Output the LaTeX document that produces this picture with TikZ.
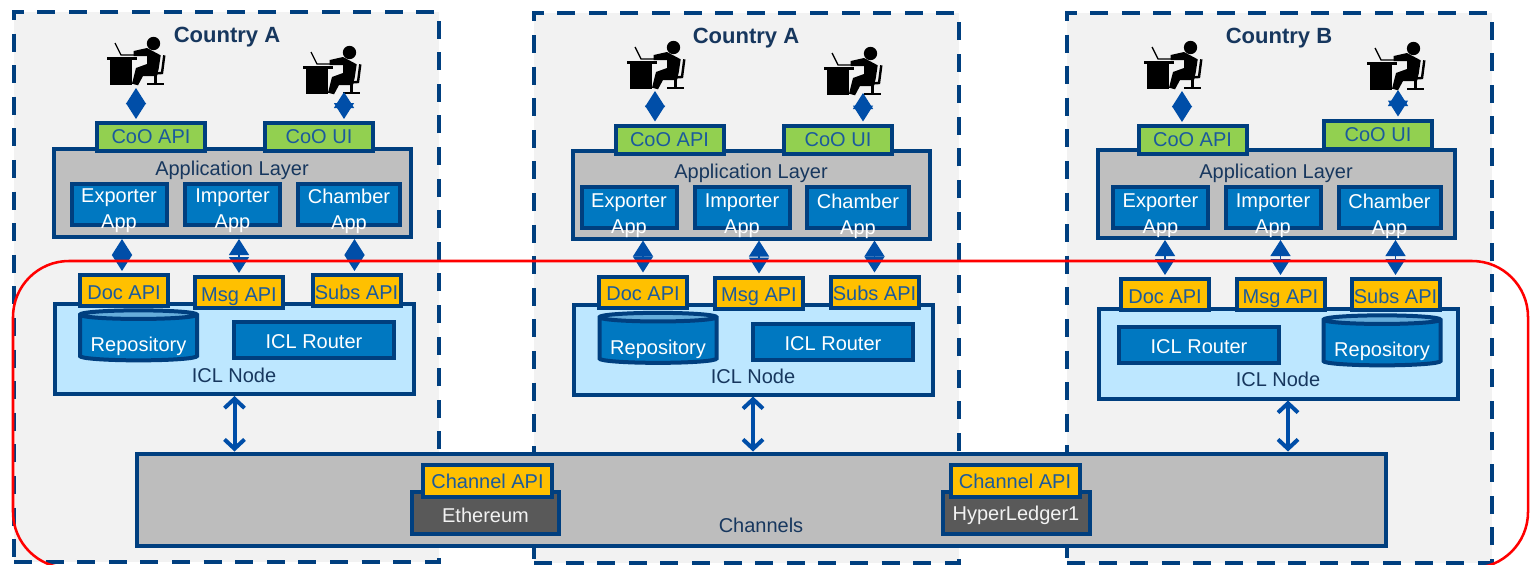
\documentclass[tikz,border=0pt]{standalone}
\usepackage{fontspec}
\setmainfont{Liberation Sans}
\usepackage{xcolor}
\usetikzlibrary{arrows.meta,shapes.geometric}

\definecolor{navyline}{HTML}{003F7F}
\definecolor{navytext}{HTML}{17375E}
\definecolor{apitext}{HTML}{1B5A9C}
\definecolor{arrowblue}{HTML}{004EA8}
\definecolor{cooGreen}{HTML}{92D050}
\definecolor{apiYellow}{HTML}{FFC000}
\definecolor{iclBlue}{HTML}{BDE7FF}
\definecolor{appBlue}{HTML}{0078C1}
\definecolor{repoTop}{HTML}{66ADDB}
\definecolor{chainGrey}{HTML}{595959}

\tikzset{
	box/.style={draw=navyline,line width=3pt,inner sep=0pt,align=center,font=\fontsize{15}{19.5}\selectfont},
	country/.style={draw=navyline,fill=black!5,line width=3pt,dash pattern=on 13.5pt off 10.2pt,minimum width=318.75pt,minimum height=412.5pt,inner sep=0pt},
	title/.style={text=navytext,font=\fontsize{16.5}{20}\selectfont\bfseries},
	coobox/.style={box,fill=cooGreen,text=apitext,minimum width=81pt,minimum height=21pt},
	apibox/.style={box,fill=apiYellow,text=apitext,minimum width=66pt,minimum height=23.25pt,text height=13pt,text depth=0pt},
	chanbox/.style={box,fill=apiYellow,text=apitext,minimum width=96.75pt,minimum height=24pt},
	layer/.style={box,fill=black!25,minimum width=267.75pt,minimum height=66pt},
	iclnode/.style={box,fill=iclBlue,minimum width=269.25pt,minimum height=67.5pt},
	appbox/.style={box,fill=appBlue,minimum width=71.25pt,minimum height=30.75pt},
	routerbox/.style={box,fill=appBlue,text=white,minimum width=120pt,minimum height=27pt,text height=13pt,text depth=0pt},
	repo/.style={cylinder,shape border rotate=90,aspect=0.09,draw=navyline,line width=3pt,inner sep=0pt,cylinder uses custom fill,cylinder body fill=appBlue,cylinder end fill=repoTop,text=white,minimum width=87.75pt,minimum height=37.5pt,text height=20pt,text depth=0pt,font=\fontsize{15}{19.5}\selectfont},
	chainbox/.style={box,fill=chainGrey,text=black!5,minimum width=110.25pt,minimum height=31.5pt},
	apptext/.style={text=white,align=center,inner sep=0pt,font=\fontsize{15}{19.5}\selectfont},
	darktext/.style={text=navytext,inner sep=0pt,font=\fontsize{15}{18}\selectfont},
	smallarrow/.style={draw=arrowblue,line width=1pt,shorten >=1.5pt,{Triangle[length=12pt,width=15pt]}-{Triangle[length=12pt,width=15pt]}},
	bigarrow/.style={draw=arrowblue,line width=3pt,{Straight Barb[length=7pt,width=15pt]}-{Straight Barb[length=7pt,width=15pt]}},
	pics/worker/.style={code={
		\begin{scope}[yscale=-1]
		\fill (46.5,6.5) circle [radius=5pt];
		\fill (0,20) rectangle (30,23);
		\fill (3,23) rectangle (25,48);
		\draw [line width=1pt] (8,6) -- (14,18) -- (27,18);
		\fill (26.7,14) -- (40,11) -- (53.7,18.3) -- (51.7,31.7) -- (50,39) -- (36,39) -- (31,48.3) -- (25,46.7) -- (29,31) -- (40,27) -- (40,19) -- (26.7,19) -- cycle;
		\draw [line width=1.8pt] (57.3,18.3) -- (55,36) -- (40,37);
		\draw [line width=1.8pt] (48.3,38) -- (48.3,46);
		\draw [line width=1.8pt] (40,47) -- (56.7,47);
		\end{scope}
	}}
}

\begin{document}
\begin{tikzpicture}[x=0.75pt,y=0.75pt,yscale=-1,xscale=1]
	\useasboundingbox (0,0) rectangle (1530,564);
	
	%Shape: Country panels
	\node [country] (countryA) at (226.5,286.5) {};
	\node [country] (countryB) at (746.5,288) {};
	\node [country] (countryC) at (1279.5,287.5) {};
	% Text Node
	\node [title] (titleA) at (227,37) {Country A};
	\node [title] (titleB) at (746,38) {Country A};
	\node [title] (titleC) at (1279,38) {Country B};
	
	%Shape: Workers
	\pic at (107,37) {worker};
	\pic at (303,46) {worker};
	\pic at (627,41) {worker};
	\pic at (824,47) {worker};
	\pic at (1144,41) {worker};
	\pic at (1367,42) {worker};
	\coordinate (userA1) at (136,88);
	\coordinate (userA2) at (344,92);
	\coordinate (userB1) at (655,91);
	\coordinate (userB2) at (863,93);
	\coordinate (userC1) at (1182,91);
	\coordinate (userC2) at (1398,90);
	
	%Shape: Application layers
	\node [layer] (layerA) at (232.5,193) {};
	\node [layer] (layerB) at (751.5,194.5) {};
	\node [layer] (layerC) at (1276.5,194) {};
	\node [coobox] (cooApiA) at (151,137) {CoO API};
	\node [coobox] (cooUiA) at (319,137) {CoO UI};
	\node [coobox] (cooApiB) at (669.5,139.5) {CoO API};
	\node [coobox] (cooUiB) at (838,139.5) {CoO UI};
	\node [coobox] (cooApiC) at (1192.5,140) {CoO API};
	\node [coobox] (cooUiC) at (1378,134.5) {CoO UI};
	% Text Node
	\node [darktext] (layerTextA) at (232,170) {Application Layer};
	\node [darktext] (layerTextB) at (751,173) {Application Layer};
	\node [darktext] (layerTextC) at (1276,173) {Application Layer};
	
	%Shape: Apps
	\node [appbox] (exporterA) at (119,204) {};
	\node [appbox] (importerA) at (232.5,204) {};
	\node [appbox,minimum width=76.5pt] (chamberA) at (349,204) {};
	\node [appbox] (exporterB) at (629,207) {};
	\node [appbox] (importerB) at (742,207) {};
	\node [appbox,minimum width=76.5pt] (chamberB) at (858,207) {};
	\node [appbox] (exporterC) at (1160.5,207) {};
	\node [appbox] (importerC) at (1273,207) {};
	\node [appbox,minimum width=76.5pt] (chamberC) at (1389.5,207) {};
	% Text Node
	\node [apptext] (exporterTextA) at (119,211) {Exporter\\App};
	\node [apptext] (importerTextA) at (232.5,211) {Importer\\App};
	\node [apptext] (chamberTextA) at (349,211) {Chamber\\App};
	\node [apptext] (exporterTextB) at (629,216) {Exporter\\App};
	\node [apptext] (importerTextB) at (742,216) {Importer\\App};
	\node [apptext] (chamberTextB) at (858,216) {Chamber\\App};
	\node [apptext] (exporterTextC) at (1160.5,216) {Exporter\\App};
	\node [apptext] (importerTextC) at (1273,216) {Importer\\App};
	\node [apptext] (chamberTextC) at (1389.5,216) {Chamber\\App};
	
	%Shape: ICL nodes
	\node [iclnode] (iclA) at (234.5,349) {};
	\node [iclnode] (iclB) at (753,349.5) {};
	\node [iclnode] (iclC) at (1278,353.5) {};
	\node [apibox] (docA) at (124,290.5) {Doc API};
	\node [apibox] (msgA) at (239,292.5) {Msg API};
	\node [apibox] (subsA) at (356.5,290.5) {Subs API};
	\node [apibox] (docB) at (643,292) {Doc API};
	\node [apibox] (msgB) at (759,293) {Msg API};
	\node [apibox] (subsB) at (874.5,292) {Subs API};
	\node [apibox] (docC) at (1165,294.5) {Doc API};
	\node [apibox] (msgC) at (1280.5,294.5) {Msg API};
	\node [apibox] (subsC) at (1395.5,294.5) {Subs API};
	\node [repo] (repoA) at (138.5,338.5) {Repository};
	\node [repo] (repoB) at (658,341) {Repository};
	\node [repo] (repoC) at (1382,343.5) {Repository};
	\node [routerbox] (routerA) at (314,340) {ICL Router};
	\node [routerbox] (routerB) at (833,342) {ICL Router};
	\node [routerbox] (routerC) at (1199,344.5) {ICL Router};
	% Text Node
	\node [darktext] (iclTextA) at (234,375) {ICL Node};
	\node [darktext] (iclTextB) at (753,376) {ICL Node};
	\node [darktext] (iclTextC) at (1278,379) {ICL Node};
	
	%Shape: Channels
	\node [box,fill=black!26,minimum width=936.75pt,minimum height=69pt] (channels) at (761,499.5) {};
	\node [chainbox] (ethereum) at (485.5,513) {};
	\node [chainbox] (hyperledger) at (1016,513) {};
	\node [chanbox] (chanApi1) at (487.5,481) {Channel API};
	\node [chanbox] (chanApi2) at (1015,481) {Channel API};
	% Text Node
	\node [apptext,text=black!5] (ethereumText) at (485.5,515) {Ethereum};
	\node [apptext,text=black!5] (hyperledgerText) at (1016,515) {HyperLedger1};
	\node [darktext] (channelsText) at (761,525) {Channels};
	
	%Straight Lines: users to APIs
	\draw [smallarrow] (userA1) -- (userA1 |- cooApiA.north);
	\draw [smallarrow] (userA2) -- (userA2 |- cooUiA.north);
	\draw [smallarrow] (userB1) -- (userB1 |- cooApiB.north);
	\draw [smallarrow] (userB2) -- (userB2 |- cooUiB.north);
	\draw [smallarrow] (userC1) -- (userC1 |- cooApiC.north);
	\draw [smallarrow] (userC2) -- (userC2 |- cooUiC.north);
	
	%Straight Lines: apps to ICL
	\draw [smallarrow] ([xshift=-1.5pt]docA.north |- layerA.south) -- ([xshift=-1.5pt]docA.north);
	\draw [smallarrow] (msgA.north |- layerA.south) -- (msgA.north);
	\draw [smallarrow] ([xshift=-1.5pt]subsA.north |- layerA.south) -- ([xshift=-1.5pt]subsA.north);
	\draw [smallarrow] (docB.north |- layerB.south) -- (docB.north);
	\draw [smallarrow] (msgB.north |- layerB.south) -- (msgB.north);
	\draw [smallarrow] (subsB.north |- layerB.south) -- (subsB.north);
	\draw [smallarrow] (docC.north |- layerC.south) -- (docC.north);
	\draw [smallarrow] (msgC.north |- layerC.south) -- (msgC.north);
	\draw [smallarrow] (subsC.north |- layerC.south) -- (subsC.north);
	
	%Straight Lines: ICL to channels
	\draw [bigarrow] (iclA.south) -- (iclA.south |- channels.north);
	\draw [bigarrow] (iclB.south) -- (iclB.south |- channels.north);
	\draw [bigarrow] ([xshift=7.5pt]iclC.south) -- ([xshift=7.5pt]iclC.south |- channels.north);
	
	%Shape: Rounded frame
	\draw [red,line width=1.9pt,rounded corners=42pt] (13,261) rectangle (1528,568);
\end{tikzpicture}
\end{document}
